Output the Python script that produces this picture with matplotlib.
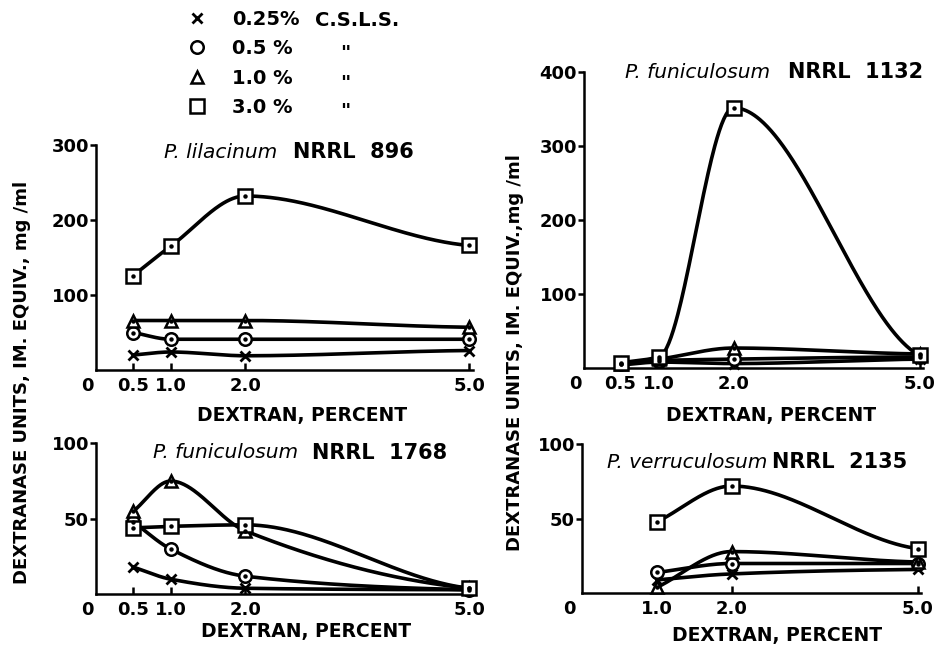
import numpy as np
import matplotlib.pyplot as plt
import matplotlib.transforms as mtransforms
from matplotlib.lines import Line2D

# dextran concentrations (percent)
dextran_a = [0.5, 1.0, 2.0, 5.0]
dextran_b = [1.0, 2.0, 5.0]
csls_labels = ['0.25%', '0.5 %', '1.0 %', '3.0 %']

# P. lilacinum NRRL 896
lil_x = [20, 24, 19, 26]
lil_o = [50, 41, 41, 41]
lil_t = [66, 66, 66, 57]
lil_s = [126, 165, 232, 166]

# P. funiculosum NRRL 1132
f1132_x = [4, 8, 6, 12]
f1132_o = [5, 10, 12, 15]
f1132_t = [6, 12, 27, 19]
f1132_s = [7, 15, 352, 17]

# P. funiculosum NRRL 1768
f1768_x = [18, 10, 4, 3]
f1768_o = [48, 30, 12, 3]
f1768_t = [55, 75, 42, 4]
f1768_s = [44, 45, 46, 4]

# P. verruculosum NRRL 2135
v2135_x = [9, 13, 16]
v2135_o = [14, 20, 20]
v2135_t = [4, 28, 21]
v2135_s = [48, 72, 30]

W, H = 939, 649
fig = plt.figure(figsize=(W / 100, H / 100), dpi=100)
plt.rcParams['font.family'] = ['DejaVu Sans']


def box(l, t, r, b):
    return [l / W, 1 - b / H, (r - l) / W, (b - t) / H]


def smooth(x, y, n=300):
    # monotone cubic curve through the read points, for drawing only
    x = np.asarray(x, float)
    y = np.asarray(y, float)
    h = np.diff(x)
    d = np.diff(y) / h
    m = np.zeros_like(y)
    for k in range(1, len(x) - 1):
        if d[k - 1] * d[k] > 0:
            w1 = 2 * h[k] + h[k - 1]
            w2 = h[k] + 2 * h[k - 1]
            m[k] = (w1 + w2) / (w1 / d[k - 1] + w2 / d[k])
    m[0] = d[0]
    m[-1] = 0.4 * d[-1]
    xs = np.linspace(x[0], x[-1], n)
    i = np.clip(np.searchsorted(x, xs) - 1, 0, len(h) - 1)
    t = (xs - x[i]) / h[i]
    ys = ((2 * t**3 - 3 * t**2 + 1) * y[i] + (t**3 - 2 * t**2 + t) * h[i] * m[i]
          + (-2 * t**3 + 3 * t**2) * y[i + 1] + (t**3 - t**2) * h[i] * m[i + 1])
    return xs, ys


# right-hand panels have a compressed 2-5 % stretch
knots = [0, 0.5, 1.0, 2.0, 5.0, 6.0]
knot_pos = [0, 36.5, 75, 149.5, 335.5, 397.5]
fwd = lambda v: np.interp(v, knots, knot_pos)
inv = lambda p: np.interp(p, knot_pos, knots)

styles = [
    dict(marker='x', ms=7, mew=2.0),
    dict(marker='o', ms=9, mew=1.8),
    dict(marker='^', ms=9, mew=1.8),
    dict(marker='s', ms=10, mew=1.8),
]


def panel(rect, xs, series, ylim, yticks, xticks, compressed, zero_shift):
    ax = fig.add_axes(rect)
    if compressed:
        ax.set_xscale('function', functions=(fwd, inv))
    for vals, st in zip(series, styles):
        sx, sy = smooth(xs, vals)
        ax.plot(sx, sy, color='black', lw=2.6, solid_capstyle='round', zorder=2, clip_on=False)
        ax.plot(xs, vals, ls='none', color='black', mfc='white', clip_on=False, zorder=3, **st)
        if st['marker'] != 'x':
            ax.plot(xs, vals, ls='none', marker='o', ms=2.2, color='black', clip_on=False, zorder=4)
    ax.set_xlim(0, 5.05)
    ax.set_ylim(*ylim)
    for s in ['top', 'right']:
        ax.spines[s].set_visible(False)
    for s in ['left', 'bottom']:
        ax.spines[s].set_linewidth(1.8)
    ax.set_yticks(yticks)
    ax.set_yticklabels([str(v) for v in yticks])
    ax.set_xticks([0] + xticks)
    ax.set_xticklabels(['0'] + ['%.1f' % v for v in xticks])
    ax.tick_params(axis='y', direction='out', length=4, width=1.8, pad=1, labelsize=13)
    ax.tick_params(axis='x', direction='in', length=5, width=1.8, pad=5, labelsize=13)
    for lab in ax.get_yticklabels() + ax.get_xticklabels():
        lab.set_fontweight('bold')
    zl = ax.get_xticklabels()[0]
    zl.set_transform(zl.get_transform() + mtransforms.ScaledTranslation(zero_shift / 100, 0, fig.dpi_scale_trans))
    ax.xaxis.get_major_ticks()[0].tick1line.set_visible(False)
    return ax


panel(box(96, 145, 473, 370), dextran_a, [lil_x, lil_o, lil_t, lil_s],
      (0, 300), [100, 200, 300], [0.5, 1.0, 2.0, 5.0], False, -9)
panel(box(584, 72.3, 922.6, 368), dextran_a, [f1132_x, f1132_o, f1132_t, f1132_s],
      (0, 400), [100, 200, 300, 400], [0.5, 1.0, 2.0, 5.0], True, -9)
panel(box(96, 443.3, 473, 594.3), dextran_a, [f1768_x, f1768_o, f1768_t, f1768_s],
      (0, 100), [50, 100], [0.5, 1.0, 2.0, 5.0], False, -9)
panel(box(582, 444.3, 920.6, 593.3), dextran_b, [v2135_x, v2135_o, v2135_t, v2135_s],
      (0, 100), [50, 100], [1.0, 2.0, 5.0], True, -13)


def ftext(x, y, s, **kw):
    fig.text(x / W, 1 - y / H, s, **kw)


# panel titles
titles = [
    (277, 293, 152, 'P. lilacinum', 'NRRL  896'),
    (770, 788, 72, 'P. funiculosum', 'NRRL  1132'),
    (298, 312, 453, 'P. funiculosum', 'NRRL  1768'),
    (767, 772, 462, 'P. verruculosum', 'NRRL  2135'),
]
for xe, xb, y, sp, strain in titles:
    ftext(xe, y, sp, ha='right', va='center', fontsize=14.5, style='italic')
    ftext(xb, y, strain, ha='left', va='center', fontsize=15, fontweight='bold')

# axis labels
for x, y in [(302, 415), (771, 415), (306, 632), (777, 635)]:
    ftext(x, y, 'DEXTRAN, PERCENT', ha='center', va='center', fontsize=13.5, fontweight='bold')
ftext(22, 382, 'DEXTRANASE UNITS, IM. EQUIV., mg /ml', rotation=90,
      ha='center', va='center', fontsize=13, fontweight='bold')
ftext(515, 353, 'DEXTRANASE UNITS, IM. EQUIV.,mg /ml', rotation=90,
      ha='center', va='center', fontsize=13, fontweight='bold')

# legend
handles = [Line2D([], [], ls='none', color='black', mfc='white', **st) for st in styles]
fig.legend(handles, csls_labels, loc='upper left', bbox_to_anchor=(187 / W, 1 - 10 / H),
           frameon=False, prop=dict(size=14, weight='bold'), handlelength=1.0,
           handletextpad=1.3, labelspacing=0.53, borderaxespad=0, borderpad=0)
ftext(315, 20, 'C.S.L.S.', ha='left', va='center', fontsize=14, fontweight='bold')
for y in [48, 78, 107]:
    ftext(345, y + 5, '"', ha='center', va='center', fontsize=14, fontweight='bold')

fig.savefig('out.png', dpi=100)
